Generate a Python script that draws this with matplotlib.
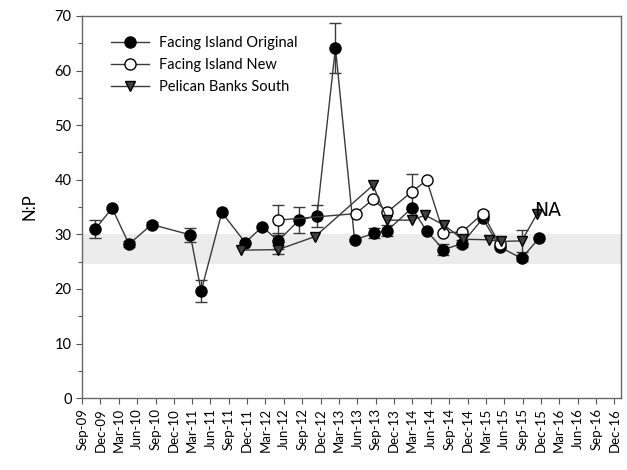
import matplotlib
matplotlib.use("Agg")
import matplotlib.pyplot as plt
import matplotlib.dates as mdates
from matplotlib.ticker import MultipleLocator
import pandas as pd
import numpy as np

# ---------------- data ----------------
orig_dates = ["2009-11-06", "2010-01-28", "2010-04-22", "2010-08-13", "2011-02-21",
              "2011-04-16", "2011-07-28", "2011-11-21", "2012-02-15", "2012-05-03",
              "2012-08-15", "2012-11-12", "2013-02-12", "2013-05-18", "2013-08-24",
              "2013-10-28", "2014-02-27", "2014-05-12", "2014-08-03", "2014-11-03",
              "2015-02-15", "2015-05-09", "2015-08-27", "2015-11-22"]
orig_vals = [31.0, 34.8, 28.2, 31.8, 29.9, 19.6, 34.0, 28.5, 31.4, 28.8,
             32.6, 33.4, 64.2, 29.0, 30.2, 30.7, 34.8, 30.6, 27.2, 28.3,
             32.9, 27.7, 25.6, 29.3]
orig_err = [1.6, 0, 0.6, 0.5, 1.3, 2.0, 0, 0, 0, 1.5,
            2.4, 2.0, 4.6, 0, 0.9, 1.0, 0, 0, 1.0, 0.7,
            0, 0, 0.5, 0]

new_dates = ["2012-05-03", "2013-05-24", "2013-08-18", "2013-10-28", "2014-02-27",
             "2014-05-12", "2014-08-03", "2014-11-03", "2015-02-15", "2015-05-09"]
new_vals = [32.6, 33.8, 36.4, 34.1, 37.8, 39.9, 30.3, 30.4, 33.8, 28.2]
new_err = [2.8, 0, 0, 0, 3.2, 0, 0, 0, 0.5, 0]

pel_dates = ["2011-11-01", "2012-05-03", "2012-11-03", "2013-08-18", "2013-10-28",
             "2014-02-27", "2014-05-04", "2014-08-06", "2014-11-06", "2015-03-17",
             "2015-05-15", "2015-08-27", "2015-11-13"]
pel_vals = [27.1, 27.2, 29.6, 39.0, 32.6, 32.6, 33.5, 31.7, 29.1, 29.0, 28.7, 28.8, 33.8]
pel_err = [0, 0.8, 0, 0, 0, 0, 0, 0, 0, 0, 0, 2.0, 0]

band_low, band_high = 24.5, 30.0
tick_dates = pd.date_range("2009-09-01", "2016-12-01", freq="3MS")
tick_labels = [d.strftime("%b-%y") for d in tick_dates]

# ---------------- plot ----------------
plt.rcParams["font.family"] = ["Lato", "DejaVu Sans"]

fig = plt.figure(figsize=(6.27, 4.70), dpi=100)
ax = fig.add_axes([0.131, 0.153, 0.859, 0.813])

ax.axhspan(band_low, band_high, color="#ececec", zorder=0, lw=0)

line_col = "#3a3a3a"

def draw(dates, vals, errs, label, marker, mfc, ms):
    d = pd.to_datetime(dates)
    v = np.array(vals)
    e = np.array(errs)
    m = e > 0
    ax.errorbar(d[m], v[m], yerr=e[m], fmt="none", ecolor=line_col,
                elinewidth=1.0, capsize=4.5, capthick=1.0, zorder=2)
    h, = ax.plot(d, v, color=line_col, lw=1.0, marker=marker, ms=ms,
                 mfc=mfc, mec="black", mew=1.0, label=label, zorder=3)
    return h

h1 = draw(orig_dates, orig_vals, orig_err, "Facing Island Original", "o", "black", 8)
h2 = draw(new_dates, new_vals, new_err, "Facing Island New", "o", "white", 8)
h3 = draw(pel_dates, pel_vals, pel_err, "Pelican Banks South", "v", "#404040", 7.5)

ax.text(pd.Timestamp("2016-01-01"), 34.4, "NA", ha="center", va="center",
        fontsize=13.5, family="DejaVu Sans", zorder=5)

ax.set_xlim(pd.Timestamp("2009-09-01"), pd.Timestamp("2017-01-01"))
ax.set_ylim(0, 70)
ax.set_xticks(tick_dates)
ax.set_xticklabels(tick_labels, rotation=90, fontsize=9.5)
ax.yaxis.set_major_locator(MultipleLocator(10))
ax.yaxis.set_minor_locator(MultipleLocator(5))
ax.tick_params(axis="y", labelsize=10.5, length=4, color="#555555", width=0.8)
ax.tick_params(axis="y", which="minor", length=3, color="#555555", width=0.8)
ax.tick_params(axis="x", length=4, color="#555555", width=0.8, pad=3)
ax.set_ylabel("N:P", fontsize=12, labelpad=12)

for s in ax.spines.values():
    s.set_color("#666666")
    s.set_linewidth(1.0)

leg = ax.legend(handles=[h1, h2, h3], loc="upper left",
                bbox_to_anchor=(0.035, 0.975), frameon=False, fontsize=10.5,
                handlelength=2.6, handletextpad=0.7, labelspacing=0.55,
                borderpad=0.2)

fig.savefig("out.png", dpi=100)
